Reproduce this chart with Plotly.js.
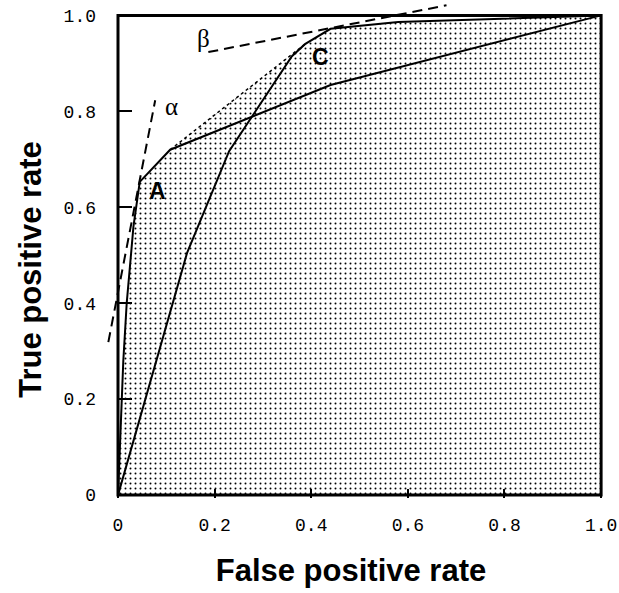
<!DOCTYPE html>
<html>
<head>
<meta charset="utf-8">
<script src="https://cdn.plot.ly/plotly-3.0.1.min.js"></script>
<style>html,body{margin:0;padding:0;background:#fff;}#chart{width:619px;height:593px;}</style>
</head>
<body>
<div id="chart"></div>
<script>
// ROC curve A (solid)
var curveA_fpr = [0, 0.004, 0.011, 0.018, 0.025, 0.032, 0.045, 0.108, 0.44, 1.0];
var curveA_tpr = [0, 0.10, 0.28, 0.40, 0.49, 0.56, 0.653, 0.72, 0.855, 1.0];
// ROC curve C (solid)
var curveC_fpr = [0, 0.143, 0.23, 0.36, 0.387, 0.44, 0.58, 1.0];
var curveC_tpr = [0, 0.505, 0.717, 0.915, 0.94, 0.972, 0.986, 1.0];
// iso-performance tangent lines
var alpha_fpr = [-0.02, 0.077];
var alpha_tpr = [0.319, 0.823];
var beta_fpr = [0.187, 0.68];
var beta_tpr = [0.9235, 1.021];
// tick labels
var tickVals = [0, 0.2, 0.4, 0.6, 0.8, 1.0];
var xTickText = ['0', '0.2', '0.4', '0.6', '0.8', '1.0'];
var yTickText = ['0', '0.2', '0.4', '0.6', '0.8', '1.0'];
// labels
var xTitle = 'False positive rate';
var yTitle = 'True positive rate';
var curveLabels = ['A', 'C'];
var curveLabelX = [0.081, 0.42];
var curveLabelY = [0.633, 0.913];
var greekLabels = ['\u03b1', '\u03b2'];
var greekX = [0.11, 0.178];
var greekY = [0.81, 0.952];

// convex hull: A up to its 2nd vertex, then C from its hull vertex on
var aEnd = 7, cStart = 4;
var hullX = curveA_fpr.slice(0, aEnd + 1).concat(curveC_fpr.slice(cStart)).concat([1.0]);
var hullY = curveA_tpr.slice(0, aEnd + 1).concat(curveC_tpr.slice(cStart)).concat([0]);

var traces = [
  {x: hullX, y: hullY, type: 'scatter', mode: 'lines', fill: 'toself',
   fillcolor: 'rgba(0,0,0,0)',
   fillpattern: {shape: '.', size: 5, solidity: 0.12, fgcolor: '#000', bgcolor: '#fff'},
   line: {width: 0}, hoverinfo: 'skip'},
  {x: [curveA_fpr[aEnd], curveC_fpr[cStart]], y: [curveA_tpr[aEnd], curveC_tpr[cStart]],
   type: 'scatter', mode: 'lines', line: {color: '#000', width: 1.5, dash: '3px,3px'}},
  {x: curveA_fpr, y: curveA_tpr, type: 'scatter', mode: 'lines', line: {color: '#000', width: 2}},
  {x: curveC_fpr, y: curveC_tpr, type: 'scatter', mode: 'lines', line: {color: '#000', width: 2}},
  {x: alpha_fpr, y: alpha_tpr, type: 'scatter', mode: 'lines', line: {color: '#000', width: 2, dash: '10px,6px'}},
  {x: beta_fpr, y: beta_tpr, type: 'scatter', mode: 'lines', line: {color: '#000', width: 2, dash: '10px,6px'}}
];

var titleFont = {family: 'Liberation Sans, Arial, sans-serif', size: 31, color: '#000', weight: 'bold'};
var annotations = [
  {x: -0.134, y: 0.47, xref: 'paper', yref: 'y', text: yTitle, textangle: -90, showarrow: false,
   xanchor: 'center', yanchor: 'middle', font: titleFont}
];
for (var i = 0; i < curveLabels.length; i++) {
  annotations.push({x: curveLabelX[i], y: curveLabelY[i], xref: 'x', yref: 'y', text: curveLabels[i],
    showarrow: false, font: {family: 'Liberation Sans, Arial, sans-serif', size: 23, color: '#000', weight: 'bold'}});
}
for (var j = 0; j < greekLabels.length; j++) {
  annotations.push({x: greekX[j], y: greekY[j], xref: 'x', yref: 'y', text: greekLabels[j],
    showarrow: false, font: {family: 'Liberation Serif, Times New Roman, serif', size: 25, color: '#000'}});
}

var xr = [-0.0414, 1.006];
var layout = {
  width: 619, height: 593,
  margin: {l: 98, r: 15, t: 1, b: 95},
  paper_bgcolor: '#fff', plot_bgcolor: '#fff',
  showlegend: false,
  xaxis: {
    range: xr, showgrid: false, zeroline: false, showline: false,
    tickvals: tickVals, ticktext: xTickText, ticks: 'inside', ticklen: 9, tickwidth: 2, tickcolor: '#000',
    ticklabelstandoff: 14,
    tickfont: {family: 'Liberation Mono, Courier New, monospace', size: 18, color: '#000'},
    title: {text: xTitle, standoff: 24, font: titleFont}
  },
  yaxis: {
    range: [-0.006, 1.03], anchor: 'free', position: (0 - xr[0]) / (xr[1] - xr[0]),
    showgrid: false, zeroline: false, showline: false,
    tickvals: tickVals, ticktext: yTickText, ticks: 'inside', ticklen: 13, tickwidth: 2, tickcolor: '#000',
    ticklabelstandoff: 22,
    tickfont: {family: 'Liberation Mono, Courier New, monospace', size: 18, color: '#000'}
  },
  shapes: [
    {type: 'rect', xref: 'x', yref: 'y', x0: 0, x1: 1, y0: 0, y1: 1, line: {color: '#000', width: 3}, layer: 'above'}
  ],
  annotations: annotations
};

Plotly.newPlot('chart', traces, layout, {staticPlot: true, displayModeBar: false});
</script>
</body>
</html>
